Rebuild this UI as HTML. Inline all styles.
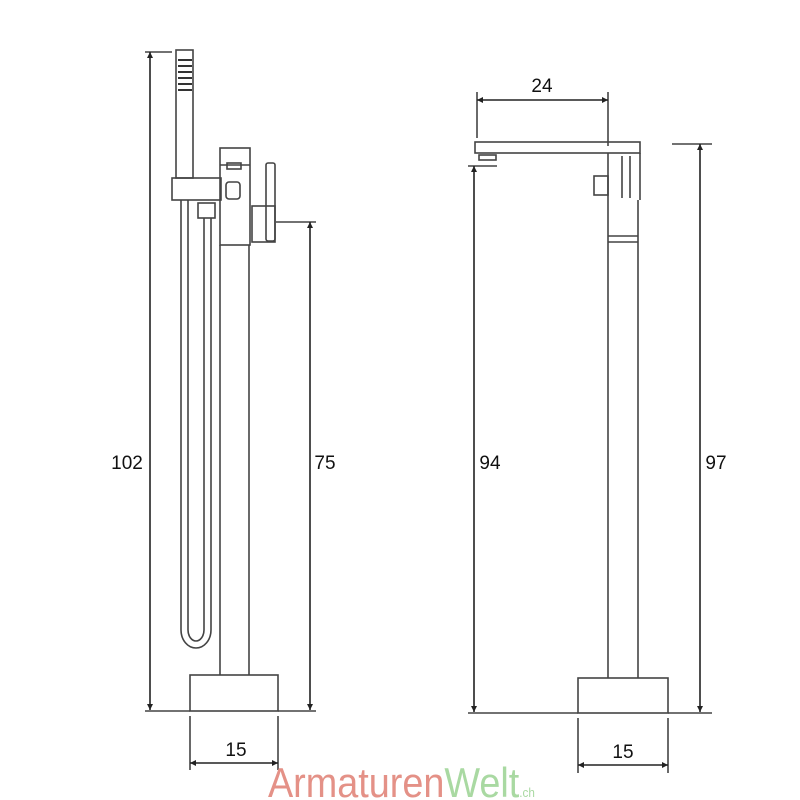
<!DOCTYPE html>
<html><head><style>body{margin:0;background:#fff}svg{display:block}</style></head>
<body>
<svg width="800" height="800" viewBox="0 0 800 800" xmlns="http://www.w3.org/2000/svg">
<defs>
<marker id="a" viewBox="0 0 10 10" refX="10" refY="5" markerWidth="14" markerHeight="6" orient="auto-start-reverse" markerUnits="userSpaceOnUse"><path d="M0,0 L10,5 L0,10z" fill="#222"/></marker>
</defs>
<g stroke="#444" stroke-width="1.6" fill="none">
<!-- LEFT -->
<line x1="145" y1="52" x2="172" y2="52"/>
<line x1="150" y1="52" x2="150" y2="710" marker-start="url(#a)" marker-end="url(#a)" stroke="#222"/>
<rect x="176" y="50" width="17" height="128"/>
<g stroke="#333" stroke-width="2"><line x1="178" y1="60" x2="192" y2="60"/><line x1="178" y1="66" x2="192" y2="66"/><line x1="178" y1="72" x2="192" y2="72"/><line x1="178" y1="78" x2="192" y2="78"/><line x1="178" y1="84" x2="192" y2="84"/><line x1="178" y1="90" x2="192" y2="90"/></g>
<rect x="172" y="178" width="49" height="22"/>
<rect x="220" y="148" width="30" height="97"/>
<line x1="220" y1="165" x2="250" y2="165"/>
<rect x="227" y="163" width="14" height="6"/>
<rect x="226" y="182" width="14" height="17" rx="3"/>
<rect x="266" y="163" width="9" height="78" rx="2"/>
<rect x="252" y="206" width="23" height="36"/>
<line x1="220" y1="245" x2="220" y2="675"/>
<line x1="249" y1="245" x2="249" y2="675"/>
<rect x="198" y="203" width="17" height="15"/>
<path d="M181 200 V630 A15 18 0 0 0 211 630 V218"/>
<path d="M188 200 V630 A8 11 0 0 0 204 630 V218"/>
<rect x="190" y="675" width="88" height="36"/>
<line x1="145" y1="711" x2="190" y2="711"/>
<line x1="278" y1="711" x2="316" y2="711"/>
<line x1="276" y1="222" x2="316" y2="222"/>
<line x1="310" y1="222" x2="310" y2="710" marker-start="url(#a)" marker-end="url(#a)" stroke="#222"/>
<line x1="190" y1="716" x2="190" y2="770"/>
<line x1="278" y1="716" x2="278" y2="770"/>
<line x1="190" y1="763" x2="278" y2="763" marker-start="url(#a)" marker-end="url(#a)" stroke="#222"/>
<!-- RIGHT -->
<line x1="477" y1="92" x2="477" y2="138"/>
<line x1="608" y1="92" x2="608" y2="146"/>
<line x1="477" y1="100" x2="608" y2="100" marker-start="url(#a)" marker-end="url(#a)" stroke="#222"/>
<rect x="475" y="142" width="165" height="11"/>
<rect x="479" y="155" width="17" height="5"/>
<line x1="640" y1="153" x2="640" y2="200"/>
<path d="M622 156 V198 M630 156 V198"/>
<line x1="608" y1="153" x2="608" y2="678"/>
<line x1="638" y1="200" x2="638" y2="678"/>
<line x1="608" y1="236" x2="638" y2="236"/>
<line x1="608" y1="242" x2="638" y2="242"/>
<rect x="594" y="176" width="14" height="19"/>
<line x1="468" y1="166" x2="497" y2="166"/>
<line x1="474" y1="166" x2="474" y2="712" marker-start="url(#a)" marker-end="url(#a)" stroke="#222"/>
<rect x="578" y="678" width="90" height="35"/>
<line x1="468" y1="713" x2="578" y2="713"/>
<line x1="668" y1="713" x2="712" y2="713"/>
<line x1="672" y1="144" x2="712" y2="144"/>
<line x1="700" y1="144" x2="700" y2="712" marker-start="url(#a)" marker-end="url(#a)" stroke="#222"/>
<line x1="578" y1="718" x2="578" y2="773"/>
<line x1="668" y1="718" x2="668" y2="773"/>
<line x1="578" y1="765" x2="668" y2="765" marker-start="url(#a)" marker-end="url(#a)" stroke="#222"/>
</g>
<g font-family="Liberation Sans, sans-serif" font-size="19" fill="#111" text-anchor="middle">
<text x="127" y="469">102</text>
<text x="325" y="469">75</text>
<text x="236" y="756">15</text>
<text x="542" y="92">24</text>
<text x="490" y="469">94</text>
<text x="716" y="469">97</text>
<text x="623" y="758">15</text>
</g>
<text x="268" y="797" font-family="Liberation Sans, sans-serif" font-size="42" transform="translate(268 0) scale(0.9 1) translate(-268 0)"><tspan fill="#e49187">Armaturen</tspan><tspan fill="#a9d9a2">Welt</tspan><tspan fill="#a9d9a2" font-size="13">.ch</tspan></text>
</svg>
</body></html>
